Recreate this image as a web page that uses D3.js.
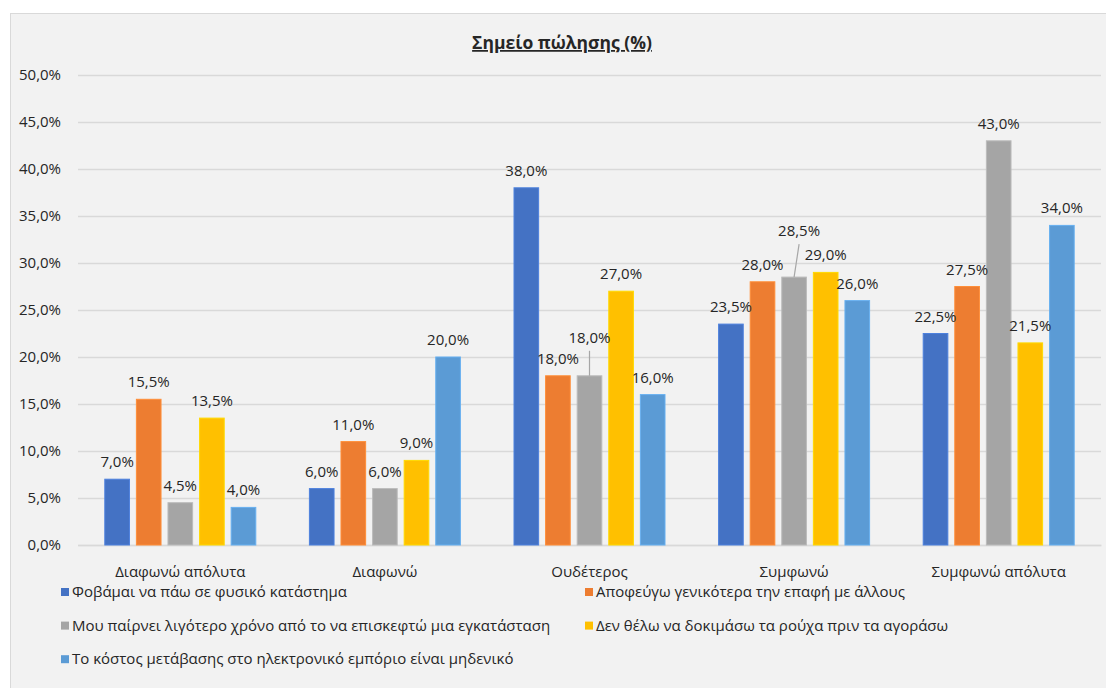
<!DOCTYPE html>
<html>
<head>
<meta charset="utf-8">
<script src="https://cdn.jsdelivr.net/npm/d3@7"></script>
<style>
  html, body { margin: 0; padding: 0; background: #ffffff; }
  svg { display: block; }
  text { font-family: "Open Sans", "Noto Sans", sans-serif; fill: #262626; }
</style>
</head>
<body>
<svg id="chart" width="1106" height="688"></svg>
<script>
// Categories (answer scale) and the five statements
const categories = ["Διαφωνώ απόλυτα", "Διαφωνώ", "Ουδέτερος", "Συμφωνώ", "Συμφωνώ απόλυτα"];
const seriesNames = [
  "Φοβάμαι να πάω σε φυσικό κατάστημα",
  "Αποφεύγω γενικότερα την επαφή με άλλους",
  "Μου παίρνει λιγότερο χρόνο από το να επισκεφτώ μια εγκατάσταση",
  "Δεν θέλω να δοκιμάσω τα ρούχα πριν τα αγοράσω",
  "Το κόστος μετάβασης στο ηλεκτρονικό εμπόριο είναι μηδενικό"
];

// Percentages per category, one array per statement
const fearStore     = [7.0, 6.0, 38.0, 23.5, 22.5];
const avoidContact  = [15.5, 11.0, 18.0, 28.0, 27.5];
const lessTime      = [4.5, 6.0, 18.0, 28.5, 43.0];
const noTryOn       = [13.5, 9.0, 27.0, 29.0, 21.5];
const zeroCost      = [4.0, 20.0, 16.0, 26.0, 34.0];

const yTicks = [0, 5, 10, 15, 20, 25, 30, 35, 40, 45, 50];

const seriesValues = [fearStore, avoidContact, lessTime, noTryOn, zeroCost];
const colors = ["#4472C4", "#ED7D31", "#A5A5A5", "#FFC000", "#5B9BD5"];

// Labels moved off their bar, with a leader line back to it (series index, category index, dx, dy)
const labelShifts = [
  { s: 2, c: 2, dx: 0, dy: -21 },
  { s: 2, c: 3, dx: 5, dy: -29 }
];

const svg = d3.select("#chart");
const fmt = v => d3.format(".1f")(v).replace(".", ",") + "%";
const fontSize = "15px";

// Chart frame
svg.append("rect")
  .attr("x", 10.5).attr("y", 13.5)
  .attr("width", 1120).attr("height", 700)
  .attr("fill", "#f2f2f2")
  .attr("stroke", "#d9d9d9").attr("stroke-width", 1);

// Title
svg.append("text")
  .attr("x", 562).attr("y", 49)
  .attr("text-anchor", "middle")
  .style("font-size", "17.5px").style("font-weight", "bold")
  .style("text-decoration", "underline")
  .text("Σημείο πώλησης (%)");

const plotLeft = 78, plotRight = 1101, plotTop = 75, plotBottom = 545;

const y = d3.scaleLinear().domain([0, 50]).range([plotBottom, plotTop]);
const x0 = d3.scaleBand().domain(categories).range([plotLeft, plotRight])
  .paddingInner(0.262).paddingOuter(0.131);
const x1 = d3.scaleBand().domain(d3.range(seriesNames.length)).range([0, x0.bandwidth()])
  .paddingInner(0.22);

// Gridlines and y tick labels
const yAxis = d3.axisLeft(y).tickValues(yTicks).tickSize(-(plotRight - plotLeft)).tickFormat(fmt);
const gy = svg.append("g").attr("transform", `translate(${plotLeft},0)`).call(yAxis);
gy.select(".domain").remove();
gy.selectAll(".tick line").attr("stroke", "#d9d9d9").attr("stroke-width", 1.3);
gy.selectAll(".tick text")
  .attr("x", -17)
  .style("font-size", fontSize).style("fill", "#262626");

// Category labels
const xAxis = d3.axisBottom(x0).tickSize(0).tickPadding(0);
const gx = svg.append("g").attr("transform", `translate(0,${plotBottom})`).call(xAxis);
gx.select(".domain").attr("stroke", "#d9d9d9").attr("stroke-width", 1.3);
gx.selectAll(".tick text")
  .attr("y", 32).attr("dy", 0)
  .style("font-size", fontSize).style("fill", "#262626");

// Bars
const rows = [];
seriesValues.forEach((vals, s) => vals.forEach((v, c) => rows.push({ s, c, v })));

svg.append("g").selectAll("rect").data(rows).join("rect")
  .attr("x", d => x0(categories[d.c]) + x1(d.s))
  .attr("y", d => y(d.v))
  .attr("width", x1.bandwidth())
  .attr("height", d => y(0) - y(d.v))
  .attr("fill", d => colors[d.s])
  .attr("stroke", d => d3.color(colors[d.s]).brighter(0.35))
  .attr("stroke-width", 1);

// Value labels
const labelGap = 12;
const shiftOf = d => labelShifts.find(o => o.s === d.s && o.c === d.c);
const labels = svg.append("g");
rows.forEach(d => {
  const cx = x0(categories[d.c]) + x1(d.s) + x1.bandwidth() / 2;
  const top = y(d.v);
  const sh = shiftOf(d);
  const lx = cx + (sh ? sh.dx : 0);
  const ly = top - labelGap + (sh ? sh.dy : 0);
  if (sh) {
    labels.append("line")
      .attr("x1", lx).attr("y1", ly + 8)
      .attr("x2", cx).attr("y2", top)
      .attr("stroke", "#a6a6a6").attr("stroke-width", 1.2);
  }
  labels.append("text")
    .attr("x", lx).attr("y", ly)
    .attr("text-anchor", "middle")
    .style("font-size", fontSize)
    .text(fmt(d.v));
});

// Legend
const legend = svg.append("g");
seriesNames.forEach((name, i) => {
  const col = i % 2, row = Math.floor(i / 2);
  const lx = 61 + col * 524;
  const ly = 592 + row * 33.6;
  legend.append("rect")
    .attr("x", lx).attr("y", ly - 4)
    .attr("width", 8).attr("height", 8)
    .attr("fill", colors[i]);
  legend.append("text")
    .attr("x", lx + 11).attr("y", ly + 5)
    .style("font-size", fontSize)
    .text(name);
});
</script>
</body>
</html>
